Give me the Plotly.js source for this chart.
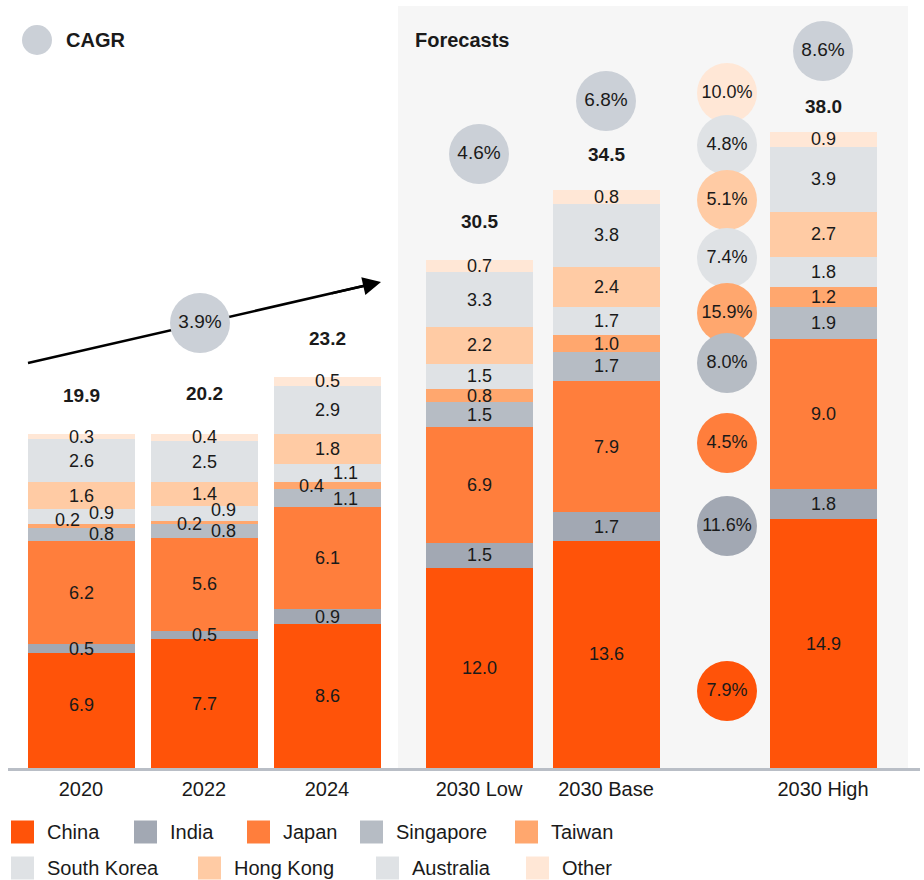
<!DOCTYPE html>
<html>
<head>
<meta charset="utf-8">
<script src="https://cdn.plot.ly/plotly-3.0.1.min.js"></script>
<style>html,body{margin:0;padding:0;background:#fff;}</style>
</head>
<body>
<div id="chart" style="width:924px;height:880px;"></div>
<script>
// ---- data ----
const categories = ['2020', '2022', '2024', '2030 Low', '2030 Base', '2030 High'];
const series = ['China', 'India', 'Japan', 'Singapore', 'Taiwan', 'South Korea', 'Hong Kong', 'Australia', 'Other'];

const china      = [6.9, 7.7, 8.6, 12.0, 13.6, 14.9];
const india      = [0.5, 0.5, 0.9, 1.5, 1.7, 1.8];
const japan      = [6.2, 5.6, 6.1, 6.9, 7.9, 9.0];
const singapore  = [0.8, 0.8, 1.1, 1.5, 1.7, 1.9];
const taiwan     = [0.2, 0.2, 0.4, 0.8, 1.0, 1.2];
const southKorea = [0.9, 0.9, 1.1, 1.5, 1.7, 1.8];
const hongKong   = [1.6, 1.4, 1.8, 2.2, 2.4, 2.7];
const australia  = [2.6, 2.5, 2.9, 3.3, 3.8, 3.9];
const other      = [0.3, 0.4, 0.5, 0.7, 0.8, 0.9];

const totals = [19.9, 20.2, 23.2, 30.5, 34.5, 38.0];

// CAGR figures
const cagrHistoric = '3.9%';                      // 2020 -> 2024
const cagrScenario = ['4.6%', '6.8%', '8.6%'];    // Low, Base, High
const cagrHighByMarket = ['7.9%', '11.6%', '4.5%', '8.0%', '15.9%', '7.4%', '5.1%', '4.8%', '10.0%']; // series order

const seriesValues = [china, india, japan, singapore, taiwan, southKorea, hongKong, australia, other];

// ---- style ----
const colors = ['#ff5309', '#a2a8b3', '#ff7e3c', '#b6bcc4', '#ffa76e', '#dfe2e5', '#ffcba4', '#dfe2e5', '#ffe7d6'];
const cagrGrey = '#cbd0d7';
const ink = '#1a1a1a';
const FONT = '"Liberation Sans", Arial, Helvetica, sans-serif';

// ---- geometry (page pixels) ----
const plotL = 8, plotR = 920, plotT = 6, plotB = 768;
const unitX = 123, originX = 81;   // one category step, first bar centre
const unitY = 16.7;                // pixels per value unit
const X = px => (px - originX) / unitX;
const Y = py => (plotB - py) / unitY;
const PX = px => (px - plotL) / (plotR - plotL);
const PY = py => (plotB - py) / (plotB - plotT);

const xPos = [0, 1, 2, X(479), X(606), X(823)];
const barWidth = 107 / unitX;
const totalShift = [40, 37, 42, 37, 37, 27];

// crowded thin segments in the historical bars: [xshift, yshift]
const nudges = {
  0: { 0: [0, 5], 3: [20, 0], 4: [-14, 6], 5: [20, 4] },
  1: { 3: [19, 0], 4: [-15, -1], 5: [19, 3] },
  2: { 3: [18, -1], 4: [-16, 0], 5: [18, 0] }
};

const traces = [];
const annotations = [];
const shapes = [];

// forecast panel
shapes.push({
  type: 'rect', layer: 'below', xref: 'x', yref: 'paper',
  x0: X(398), x1: X(908), y0: 0, y1: 1,
  fillcolor: '#f6f6f6', line: { width: 0 }
});

// stacked bars and their segment labels
const base = categories.map(() => 0);
series.forEach((name, s) => {
  const vals = seriesValues[s];
  traces.push({
    type: 'bar', name: name, x: xPos, y: vals, width: barWidth,
    marker: { color: colors[s], line: { width: 0 } },
    showlegend: false, hoverinfo: 'skip'
  });
  vals.forEach((v, i) => {
    const n = (nudges[i] && nudges[i][s]) || [0, 0];
    annotations.push({
      x: xPos[i], y: base[i] + v / 2, xref: 'x', yref: 'y',
      text: v.toFixed(1), showarrow: false,
      xshift: n[0], yshift: n[1],
      font: { family: FONT, size: 18, color: ink }
    });
    base[i] += v;
  });
});

// totals above bars
totals.forEach((t, i) => {
  annotations.push({
    x: xPos[i], y: t, xref: 'x', yref: 'y', yanchor: 'middle',
    yshift: totalShift[i], text: '<b>' + t.toFixed(1) + '</b>', showarrow: false,
    font: { family: FONT, size: 19, color: ink }
  });
});

// growth arrow across the historical bars: shaft under the bubble, head on top
const arrowFrom = [28, 363], arrowTo = [381, 282];
traces.push({
  type: 'scatter', mode: 'lines',
  x: [X(arrowFrom[0]), X(arrowTo[0] - 8)],
  y: [Y(arrowFrom[1]), Y(arrowTo[1] + 1.8)],
  line: { color: '#000', width: 2.5 },
  showlegend: false, hoverinfo: 'skip', cliponaxis: false
});
annotations.push({
  x: X(arrowTo[0]), y: Y(arrowTo[1]), xref: 'x', yref: 'y',
  ax: X(330), ay: Y(293.7), axref: 'x', ayref: 'y',
  text: '', showarrow: true,
  arrowhead: 2, arrowsize: 1.45, arrowwidth: 2.5, arrowcolor: '#000'
});

// CAGR bubbles: historical and per scenario
traces.push({
  type: 'scatter', mode: 'markers+text',
  x: [X(200), xPos[3], xPos[4], xPos[5]],
  y: [Y(323), Y(154), Y(101), Y(51)],
  text: [cagrHistoric].concat(cagrScenario),
  textposition: 'middle center',
  textfont: { family: FONT, size: 19, color: ink },
  marker: { size: 60, color: cagrGrey, line: { width: 0 } },
  showlegend: false, hoverinfo: 'skip', cliponaxis: false
});

// CAGR bubbles per market (high scenario), drawn top-down so lower ones overlap
const marketBubbleY = [691, 526, 443, 363, 313, 258, 200, 145, 93];
const order = series.map((_, s) => s).reverse();
traces.push({
  type: 'scatter', mode: 'markers+text',
  x: order.map(() => X(727)),
  y: order.map(s => Y(marketBubbleY[s])),
  text: order.map(s => cagrHighByMarket[s]),
  textposition: 'middle center',
  textfont: { family: FONT, size: 18, color: ink },
  marker: { size: 60, color: order.map(s => colors[s]), line: { width: 0 } },
  showlegend: false, hoverinfo: 'skip', cliponaxis: false
});

// CAGR key
traces.push({
  type: 'scatter', mode: 'markers', x: [X(37)], y: [Y(40)],
  marker: { size: 30, color: cagrGrey },
  showlegend: false, hoverinfo: 'skip', cliponaxis: false
});
annotations.push({
  x: X(64), y: Y(40), xref: 'x', yref: 'y', xanchor: 'left',
  text: '<b>CAGR</b>', showarrow: false,
  font: { family: FONT, size: 20, color: ink }
});
annotations.push({
  x: X(413), y: Y(40), xref: 'x', yref: 'y', xanchor: 'left',
  text: '<b>Forecasts</b>', showarrow: false,
  font: { family: FONT, size: 20, color: ink }
});

// legend: two rows of swatches
const legendSlots = [
  [11, 832], [134, 832], [247, 832], [360, 832], [515, 832],
  [11, 868], [198, 868], [376, 868], [526, 868]
];
series.forEach((name, s) => {
  const [lx, ly] = legendSlots[s];
  shapes.push({
    type: 'rect', xref: 'paper', yref: 'paper',
    x0: PX(lx), x1: PX(lx + 23), y0: PY(ly + 11.5), y1: PY(ly - 11.5),
    fillcolor: colors[s], line: { width: 0 }
  });
  annotations.push({
    x: PX(lx + 34), y: PY(ly), xref: 'paper', yref: 'paper',
    xanchor: 'left', yanchor: 'middle', text: name, showarrow: false,
    font: { family: FONT, size: 20, color: ink }
  });
});

const layout = {
  width: 924, height: 880,
  margin: { l: plotL, r: 924 - plotR, t: plotT, b: 880 - plotB },
  paper_bgcolor: '#ffffff', plot_bgcolor: 'rgba(0,0,0,0)',
  barmode: 'stack', bargap: 0,
  showlegend: false,
  xaxis: {
    range: [X(plotL), X(plotR)], fixedrange: true,
    tickmode: 'array', tickvals: xPos, ticktext: categories,
    ticks: '', ticklabelstandoff: 1,
    tickfont: { family: FONT, size: 20, color: ink },
    showgrid: false, zeroline: false,
    showline: true, linecolor: '#b9bec6', linewidth: 3
  },
  yaxis: {
    range: [0, Y(plotT)], fixedrange: true,
    visible: false, showgrid: false, zeroline: false
  },
  shapes: shapes,
  annotations: annotations,
  font: { family: FONT, color: ink }
};

Plotly.newPlot('chart', traces, layout, { displayModeBar: false, staticPlot: true });
</script>
</body>
</html>
